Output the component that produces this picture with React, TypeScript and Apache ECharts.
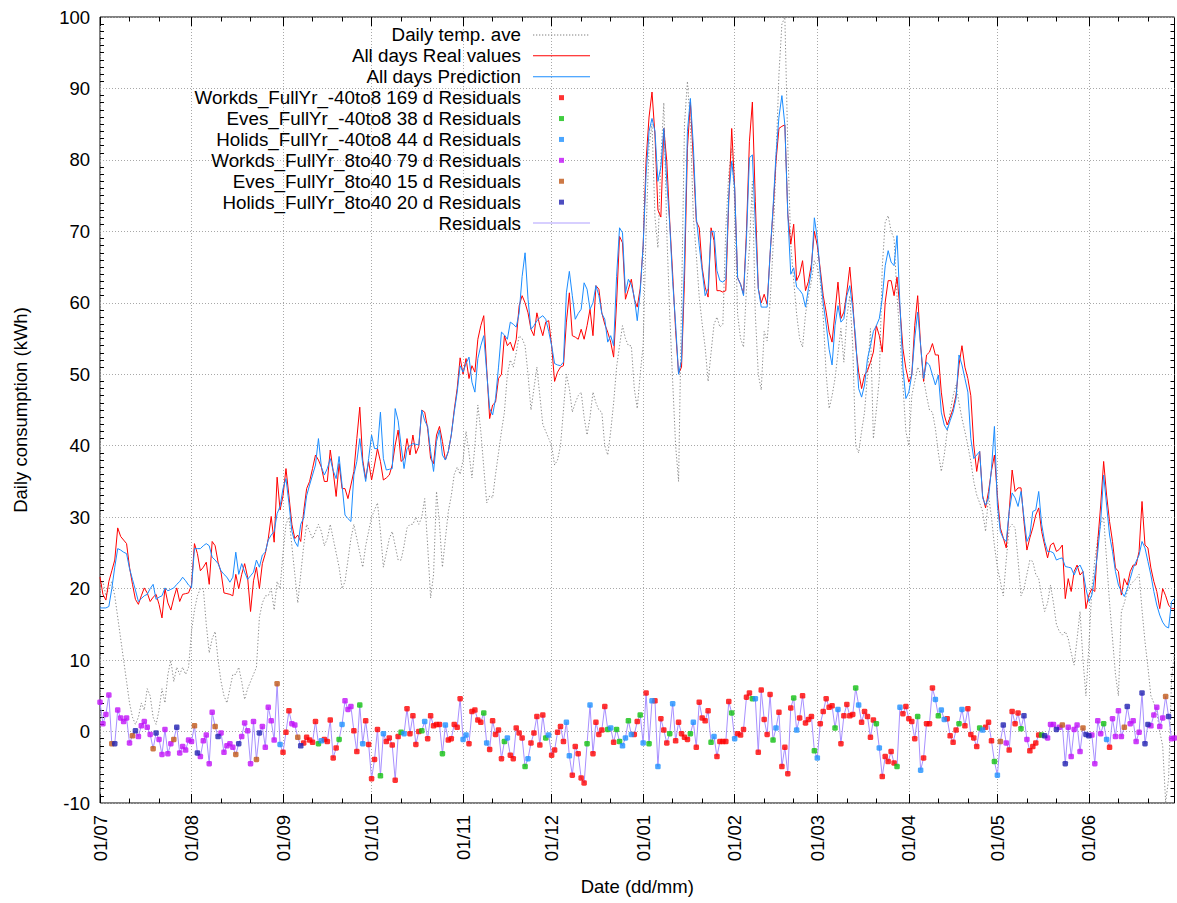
import React, { useEffect, useRef } from 'react';
import * as echarts from 'echarts';

// ---------- categories (dates 01/07 .. 30/06) ----------
const MONTH_NUMBERS = [7, 8, 9, 10, 11, 12, 1, 2, 3, 4, 5, 6];
const MONTH_LENGTHS = [31, 31, 30, 31, 30, 31, 31, 28, 31, 30, 31, 30];
const pad2 = (n: number) => (n < 10 ? '0' + n : '' + n);
const DATES: string[] = [];
MONTH_NUMBERS.forEach((m, i) => {
  for (let d = 1; d <= MONTH_LENGTHS[i]; d++) DATES.push(pad2(d) + '/' + pad2(m));
});

// ---------- series names ----------
const TEMP_NAME = 'Daily temp. ave';
const REAL_NAME = 'All days Real values';
const PRED_NAME = 'All days Prediction';
const RESID_NAME = 'Residuals';
const CAT_CODES = ['W', 'E', 'H', 'w', 'e', 'h'];
const CAT_NAMES = [
  'Workds_FullYr_-40to8 169 d Residuals',
  'Eves_FullYr_-40to8 38 d Residuals',
  'Holids_FullYr_-40to8 44 d Residuals',
  'Workds_FullYr_8to40 79 d Residuals',
  'Eves_FullYr_8to40 15 d Residuals',
  'Holids_FullYr_8to40 20 d Residuals',
];

// ---------- data (kWh per day) ----------
const REAL = [
  21.6, 19.2, 18.4, 21, 22.5, 24, 28.5, 27.3, 26.8, 26.3,
  23, 20.6, 18.5, 17.8, 19, 20.1, 19.4, 18.2, 18.8, 19.2,
  17.8, 15.9, 20, 18, 17, 18.7, 20.1, 18.2, 19.2, 19.3,
  19.4, 20.5, 26.3, 24.9, 22.5, 23, 23.7, 20.6, 26.6, 26,
  23.7, 22.3, 19.4, 19.3, 19.2, 19, 22, 20, 22, 23.5,
  21.6, 16.8, 21.1, 23, 20, 23.5, 24.9, 27, 30.1, 26.5,
  35.6, 31, 33, 36.8, 33, 29, 27, 27.5, 26.6, 30.8,
  34, 35, 36.8, 38.7, 38, 37, 35, 35, 39.4, 36.4,
  32.9, 37.5, 34, 34, 32.6, 34.5, 36.4, 41, 45.4, 38,
  35.4, 37.8, 35.2, 37.3, 39.6, 37.8, 35.2, 35.5, 35.9, 37.3,
  40.1, 42.2, 37.8, 38.2, 41, 38.7, 41.5, 38.9, 39.9, 45,
  44.7, 42.4, 38.2, 37.5, 41.5, 42.7, 40.6, 38, 39.2, 41.5,
  45, 48, 52.3, 50, 52.2, 49.4, 51.2, 50.3, 54.9, 56.8,
  58.2, 50.8, 43.8, 45.7, 46.1, 49.4, 50, 55.4, 54, 54.5,
  53.3, 54.9, 59.6, 61, 60, 58.6, 56.3, 55.4, 58.6, 56.8,
  55.4, 57.3, 57.5, 54, 49, 50.3, 51, 51.2, 57.3, 61.4,
  55.4, 55.2, 54.9, 56.3, 54.9, 56.8, 59.1, 55.4, 62.4, 61.9,
  58.6, 57, 55.9, 54.5, 52.4, 60, 69.3, 68.4, 60.5, 61.9,
  63.3, 60.5, 59.4, 62, 68, 80, 86, 89.5, 83.5, 73,
  72, 84.4, 79.8, 71.4, 64, 56.1, 50.1, 51, 63.1, 81.6,
  88.1, 80, 71.4, 70.5, 64.9, 62.2, 60.8, 70.5, 68.7, 61.7,
  61.7, 61.5, 61.7, 74.2, 84.4, 76.1, 63.5, 62.6, 61.2, 70,
  82.6, 88.1, 74.2, 62, 60, 61.2, 59.8, 66.8, 72.8, 79.8,
  84.4, 84.7, 84.9, 72.4, 68.2, 71, 63.1, 64, 65.9, 61.7,
  63, 65.4, 70, 68, 64.7, 61, 58.7, 55.9, 54.5, 58.7,
  62.9, 57.8, 58.7, 61.5, 65, 60.1, 54, 50.3, 48, 49.9,
  50.5, 51.7, 53.1, 56.8, 55.4, 53.1, 60.1, 63.1, 63.1, 61,
  63.6, 59.2, 53.6, 50.8, 48.9, 49.9, 56.8, 61, 54, 49,
  52.7, 53.1, 54.3, 52.7, 52.7, 47.5, 44.3, 42.9, 44, 45.2,
  47.1, 51.3, 54, 51, 49.4, 47, 40.1, 36.4, 39.2, 33,
  31.3, 33.6, 36.5, 38.7, 33, 28.5, 27.1, 25.7, 30.8, 36.6,
  33.6, 34.1, 34.1, 29.4, 25.4, 27.1, 28.5, 30.3, 31.3, 28,
  26.1, 24.3, 26.1, 26.4, 25.2, 25.5, 26.1, 18.6, 21.4, 19.6,
  22.4, 23.3, 21.9, 22.4, 17.2, 19.1, 20, 19.6, 26.6, 31.7,
  37.8, 33.1, 29.4, 26.6, 22.9, 22.4, 19.1, 21.4, 20.5, 22.4,
  23.3, 23.3, 25.2, 32.2, 26.1, 25.7, 22.9, 21, 19.6, 17.2,
  20, 19, 17.7, 17.2, 17.2,
];

const PRED = [
  17.3, 17.3, 17.3, 17.5, 20, 23, 25.6, 25.4, 25.1, 24.9,
  22.8, 21.3, 19.8, 18.2, 18.6, 19, 19.2, 20, 20.6, 18.5,
  18.8, 19, 20.1, 19.7, 19.9, 20.1, 20.6, 21, 21.6, 21.1,
  20.5, 20.1, 25.6, 25.6, 25.6, 26, 26.3, 26, 24.4, 24,
  23.5, 22.5, 22, 21.6, 20.9, 21.6, 25.1, 22, 23.5, 22.3,
  21.3, 21.8, 22.3, 24, 23, 24.7, 25.1, 26.8, 27.5, 28,
  30.5, 31.5, 34, 35.4, 32, 28, 26.6, 25.9, 29, 29.9,
  33, 34.5, 35.9, 37.3, 41, 37, 35.9, 36.8, 38.2, 36.5,
  35.4, 38.5, 34.5, 30.3, 29.8, 29.4, 35.9, 37.8, 41, 37.5,
  35, 38.2, 41.5, 39.6, 39.6, 44.7, 38.2, 36.6, 36.7, 36.8,
  45.2, 43.5, 40, 36.8, 39.6, 40, 40.3, 40.2, 40.1, 45,
  43.5, 42.7, 39.2, 36.4, 40.6, 42.2, 38.7, 38, 39.2, 41.5,
  44.7, 47.5, 51.2, 50.3, 51.5, 52.4, 48.9, 47.5, 52.2, 54,
  55.4, 50.3, 45.2, 44.3, 46.6, 51, 55.9, 55.5, 54.9, 57.3,
  57, 56.6, 58.6, 63.7, 67, 60.5, 56.3, 56.8, 57.5, 57.9,
  58.2, 57.7, 56, 54, 51.5, 51.3, 51.2, 51.7, 61.4, 64.4,
  61, 57.7, 58.5, 59.1, 62.8, 61.9, 59.1, 60, 62.4, 61,
  58.5, 57.7, 54.5, 55.4, 54, 63.7, 70.5, 69.8, 61.4, 63.3,
  62.5, 60.8, 57.5, 61.5, 68, 78, 84, 85.8, 84, 77,
  79, 84.4, 77, 71, 63, 57, 50, 52, 66, 84,
  88.6, 82, 72, 68, 64.5, 61, 62, 70, 70, 64.5,
  63.1, 62.9, 63.3, 75, 79.8, 76.1, 63.5, 62.6, 61, 69,
  80.3, 80.7, 71, 62, 59.4, 59.4, 59.4, 66.8, 73.3, 80.7,
  86, 89, 84.9, 72.4, 64, 64.9, 62.2, 61.8, 61.2, 59.4,
  62, 64.5, 71.9, 69, 64, 60, 57, 53.5, 51.3, 56.8,
  59.6, 57.3, 57.8, 61, 62.4, 59.2, 55, 48, 46.8, 48.5,
  52.2, 54, 56, 56.8, 57.8, 60.6, 65.2, 67.3, 65.7, 65.2,
  69.4, 59.6, 50.8, 46.6, 47.5, 49.9, 55, 58.7, 54, 49.4,
  51.7, 51.3, 49.9, 48.5, 49.9, 44.7, 42.9, 42.2, 43.5, 44.7,
  46.6, 52.7, 51.3, 49.4, 47.5, 41, 38.2, 38.7, 39.2, 32.7,
  31.7, 32.7, 36.8, 42.7, 31.7, 28, 27, 26.6, 30.8, 33.4,
  32.7, 31.5, 33.6, 30, 26.6, 27.5, 30.8, 31, 33.6, 29,
  26.6, 25.2, 25.2, 25, 24, 24.2, 24.3, 23.1, 23, 22.9,
  21.9, 22.9, 23.3, 22.4, 20, 18.2, 19.1, 21.9, 25.2, 29.4,
  35.9, 31.7, 27.5, 25.2, 22.4, 20.5, 19.6, 18.9, 20, 21.4,
  22.9, 23.8, 24.7, 26.6, 25.7, 23.8, 21.9, 19.6, 17.7, 16.3,
  15.3, 14.7, 14.5, 18.2, 18.6,
];

const TEMP = [
  20, 21, 19, 20, 21, 19, 16, 13, 10, 7,
  4, 2, 1, 2, 4, 3, 6, 5, 2, 1,
  3, 6, 4, 8, 10, 7, 9, 8, 9, 8,
  9, 14, 17, 19, 20, 20, 15, 11, 13, 14,
  10, 7, 5, 4, 6, 8, 8, 9, 7, 4.5,
  6, 7, 8, 9, 16, 18, 19, 19, 20, 17,
  21, 20, 25, 29, 30, 26, 22, 18, 22, 26,
  29, 28, 27, 28, 29, 28, 26, 27, 29, 27,
  25, 23, 20, 21, 24, 27, 29, 27, 25, 23,
  26, 28, 30, 31, 32, 28, 23, 25, 27, 28,
  26, 24, 24, 26, 28.5, 29, 29, 30, 29, 30,
  32.6, 26, 18.7, 22, 33.6, 29, 23, 27, 30.8, 33,
  36, 37, 36, 38, 42, 39, 35.5, 40, 45.7, 42,
  37, 32, 33, 32.7, 36, 39, 42, 44.7, 50, 52,
  51, 53, 55.4, 55, 54, 50, 45, 48, 51, 47,
  43, 42, 41, 40, 37.3, 38, 40, 45, 50, 48,
  44.7, 46, 47, 47.5, 44, 41.5, 44, 47.5, 46, 45,
  44.7, 40, 38.7, 42, 46, 51, 54, 56.8, 55, 54,
  54, 48, 45.2, 50, 54, 70, 82, 85, 72, 67.7,
  80, 88, 70, 58.4, 49, 40, 35, 60, 85, 91,
  85, 72, 66.8, 60.8, 57, 53.8, 49, 53, 57, 58,
  56.6, 57, 70.5, 78, 81.6, 74, 58.4, 55, 53.8, 62,
  67.7, 77, 58.4, 50, 47.8, 56, 54.7, 60, 67.7, 80,
  92, 99, 100, 82, 68.2, 63.1, 58.4, 55, 53.8, 58.4,
  61, 63, 65.9, 65, 63, 58, 50, 45.2, 47, 49.4,
  53, 56.4, 51.7, 58, 61, 54, 40, 39, 42, 44.7,
  50, 56.4, 41, 45, 49.4, 65, 71.3, 72.2, 70, 69,
  61, 55, 48.5, 42, 40, 47, 49, 51, 50, 49.4,
  47, 45, 44.7, 42.4, 39, 36.4, 38.7, 42, 44.7, 47,
  48.5, 46, 43.8, 42, 40, 37.8, 35, 33.1, 32, 30.8,
  28, 33, 30, 26, 23, 21, 19, 24, 28.5, 29,
  28.5, 24, 19, 20, 22, 24, 23.8, 22, 21.4, 19,
  16.8, 18, 20.5, 18, 15, 14, 13.5, 14, 13, 11,
  9.3, 13, 16.8, 10, 5, 12, 20, 24, 27, 29,
  30, 24, 18, 13, 8, 5, 16.8, 18, 19.6, 20.5,
  21, 21.4, 22, 17, 12.6, 9, 5, 4, 2.8, 0,
  -2, -9.9, -6.6, 7.4, 11,
];

const RESID = [
  4.1, 1.1, 2.4, 5.1, -1.7, -1.7, 3, 1.9, 1.4, 1.9,
  -1.6, -0.6, 0.1, -0.7, 0.8, 1.4, 0.6, -0.4, -2.4, -0.2,
  -1.1, -3.2, 0.3, -3.1, -1.7, -1.1, 0.6, -3, -2.1, -2.6,
  -1.2, -1.4, 0.8, -3, -3.5, -1.3, -0.5, -4.5, 2.7, 0.7,
  -0.7, -0.2, -2.9, -2, -1.7, -2.2, -3.2, -1.7, -0.7, 1.2,
  0.1, -4.5, 1.4, -3.9, -0.2, 0.7, -2.2, 3.4, 1.5, -1.2,
  6.7, -1.8, -2.9, -0.1, 2.9, 1.1, 0.9, -0.8, -2, -1.6,
  -0.8, -1.2, -1.5, 1.4, -1.7, -1.3, -1.1, -1.4, 1.6, -3.7,
  -2.3, -1.1, 1, 4.3, 3.1, 3.5, 0.1, -2.8, 3.7, -1.7,
  1.5, -1.8, -6.6, -3.9, 0.3, -6.2, -0.3, -1.4, -0.9, -1.9,
  -6.8, -0.7, -0.1, -0.3, 3.2, -0.3, 2.2, -1.8, 0, 0.1,
  1.4, -1, 2.2, 0.8, 1, 1, -3.1, 0.9, -1.2, -1,
  1, 0.6, 4.6, -1.1, -0.5, -1.7, 2.8, 3, 1.6, 1.3,
  2.6, -1.6, -2.5, 1.5, -0.4, 0.2, -3.8, -1.4, -0.9, -3.3,
  -3.8, 0.5, -0.2, -0.9, -4.9, -3.8, -1.6, -0.2, 2.1, -1.9,
  2.3, -0.9, -0.5, -3.3, -2.6, -0.1, 0.7, -1.4, 1.3, -3.4,
  -6.1, -2.1, -3.1, -6.5, -7.2, -1.7, 3.7, -3.1, 1.3, -0.4,
  0.2, 3.5, 0.3, 0.5, -1.5, 0.3, -1.4, -2, -0.9, 1.5,
  -0.4, -0.4, 1.4, 2.3, -1.6, 5.4, -1.7, 4.3, 4.3, -4.9,
  1.8, 0.2, -1.6, -0.3, 3.9, -1.3, 1.3, -0.3, -0.8, -1.1,
  -0.3, 1.3, -2.2, 4.1, 1.9, 1.5, 2.9, -1.5, -0.7, -3.5,
  -1.4, -1.4, -1.4, 4.2, 2.6, -1, -0.3, -0.5, 0.3, 4.8,
  5.4, 4.6, 4.6, -2.9, 5.8, 1.7, -0.4, 5.2, -1.2, 0.5,
  2.7, -4.9, -2.2, -5.9, 3.3, 4.7, 0.2, 1.9, 5, 1.2,
  1.7, 2.1, -2.7, -3.7, 1.1, 2.8, 4.6, 3.4, 3.6, 0.5,
  3.1, -1.7, 2.2, 3.8, 2.2, 2.4, 6.1, 3.7, 1.3, 2.8,
  2.1, -0.8, 1.6, 1.1, -2.3, -6.3, -3.5, -4.2, -2.8, -4.4,
  -4.9, 3.4, 2.5, 3.5, 1.8, 1.4, -1, 2.1, -5.4, -3.7,
  1.1, 1.1, 6.1, 4.5, 2.2, 3, 1.7, 1.8, -0.6, -1.5,
  0.2, 1.1, 3.1, 0.8, 3.2, -0.4, -0.9, -2.1, 0.5, 0.2,
  0.6, 1.3, -1.3, -4.2, -6.1, -1.4, 0.9, -1.6, -2.6, 2.8,
  1.1, 2.6, 0.4, 2.2, -1.1, -2.7, -2.1, -1.6, -0.5, -0.5,
  -0.6, -0.9, 1, 1, 0.3, 0.6, 0.9, -4.5, 0.6, -3.5,
  0.3, 0.9, -2.8, 0.5, -0.4, -0.6, -0.5, -4.5, 1.5, -0.3,
  1.1, -1.1, -2.2, 1.8, -0.7, 2.9, -0.7, 0.6, 3.5, 1.1,
  1.5, -1.4, -0.1, 5.4, -1.7, 1, 0.8, 2.3, 3.4, 0.7,
  1.9, 4.9, 2.1, -1, -0.9,
];

// day class: W/E/H = workday/eve/holiday (-40to8), w/e/h = same (8to40)
const DAY_CLASS = [
  'wwwwehwwww', 'wehwwwwweh', 'wwwwwehwww', 'wwehwwwwwe', 'hwwwwwehww',
  'wwwehwwwww', 'eHWWWwwehW', 'WWWWEHWWWW', 'WEHwwwWWEH', 'WWWWWEHWWW',
  'WWEHWWWWWE', 'HWWWWWEHWW', 'WWWHHWWWWW', 'EHWWWWWEHW', 'WWWWEHWWWW',
  'WEHWWWWWHH', 'WWWWWEHWWW', 'WWEHWEEHHE', 'HWWEHWEHWH', 'WWWEHWWWWW',
  'EHWWWWWEHW', 'WWWWEHWWWW', 'WEHWWWWWEH', 'WWWWWEHWWW', 'WWEHWWWWWE',
  'HWWWWWEHWW', 'WWWEHWWWWW', 'EHWWWWWEHW', 'WWWHEHHWWW', 'WEHWWWWWEH',
  'WWWEHehwWW', 'WWEhwWWWWE', 'hwwwhwehww', 'wwwehhwwww', 'EHWwwwwehw',
  'wwwhhhwwww', 'wehww',
].join('');

// ---------- styles ----------
const FONT = "'Liberation Sans', Arial, Helvetica, sans-serif";
const FS = 18.5;
const CAT_COLORS = ['#ff0000', '#10c010', '#1e90ff', '#c010f8', '#c05818', '#2020b0'];
const GRID_LINE = { color: '#a8a8a8', type: [1, 2] as number[], width: 1 };

const IW = 64;
const IH = 14;
const BOX = `M0,0M${IW},${IH}`;
const LINE_ICON = `path://${BOX}M7,6.5h57v1h-57z`;
let dots = '';
for (let x = 7; x < 63; x += 3) dots += `M${x},6.5h1.3v1h-1.3z`;
const DOTTED_ICON = `path://${BOX}${dots}`;
const DOT_ICON = `path://${BOX}M33,4.5h5v5h-5z`;

const isMonthStart = (idx: number) => DATES[idx] !== undefined && DATES[idx].startsWith('01/');
const isMinor = (idx: number) => {
  const d = DATES[idx] ? DATES[idx].slice(0, 2) : '';
  return d === '11' || d === '21';
};

export default function App() {
  const ref = useRef<HTMLDivElement>(null);
  useEffect(() => {
    if (!ref.current) return;
    const chart = echarts.init(ref.current, undefined, { renderer: 'svg' });

    const baseX = {
      type: 'category' as const,
      data: DATES,
      boundaryGap: false,
      gridIndex: 0,
      axisLine: { show: false, onZero: false },
    };
    const catSeries = CAT_CODES.map((code, ci) => ({
      name: CAT_NAMES[ci],
      type: 'scatter' as const,
      xAxisIndex: 0,
      yAxisIndex: 0,
      symbol: 'roundRect',
      symbolSize: 5.5,
      itemStyle: { color: CAT_COLORS[ci] },
      z: 5,
      silent: true,
      data: RESID.map((v, i) => (DAY_CLASS[i] === code ? [i, v] : null)).filter((p) => p !== null),
    }));

    chart.setOption({
      animation: false,
      backgroundColor: '#ffffff',
      textStyle: { fontFamily: FONT },
      grid: {
        left: 100,
        right: 2.5,
        top: 17,
        bottom: 100,
        show: true,
        borderColor: '#000',
        borderWidth: 1,
        backgroundColor: 'transparent',
      },
      legend: {
        orient: 'vertical',
        align: 'right',
        right: 1177 - 590,
        top: 24.5,
        padding: 0,
        itemGap: 0,
        itemWidth: IW,
        itemHeight: IH,
        selectedMode: false,
        itemStyle: { borderWidth: 0 },
        textStyle: { fontSize: 18.8, fontFamily: FONT, color: '#000', lineHeight: 20.9 },
        data: [
          { name: TEMP_NAME, icon: DOTTED_ICON, itemStyle: { color: '#808080', borderWidth: 0 } },
          { name: REAL_NAME, icon: LINE_ICON, itemStyle: { color: '#ff0000', borderWidth: 0 } },
          { name: PRED_NAME, icon: LINE_ICON, itemStyle: { color: '#1a8cff', borderWidth: 0 } },
          ...CAT_NAMES.map((n, i) => ({ name: n, icon: DOT_ICON, itemStyle: { color: CAT_COLORS[i], borderWidth: 0 } })),
          { name: RESID_NAME, icon: LINE_ICON, itemStyle: { color: '#b0a0ff', borderWidth: 0 } },
        ],
      },
      xAxis: [
        {
          ...baseX,
          position: 'bottom',
          name: 'Date (dd/mm)',
          nameLocation: 'middle',
          nameGap: 74,
          nameTextStyle: { fontSize: FS, fontFamily: FONT, color: '#000' },
          axisLabel: { interval: isMonthStart, rotate: 90, margin: 12, fontSize: FS, fontFamily: FONT, color: '#000' },
          axisTick: { interval: isMonthStart, inside: true, length: 9, lineStyle: { color: '#000' } },
          splitLine: { show: true, interval: isMonthStart, lineStyle: GRID_LINE },
        },
        {
          ...baseX,
          position: 'bottom',
          axisLabel: { show: false },
          axisTick: { interval: isMinor, inside: true, length: 4.5, lineStyle: { color: '#000' } },
          splitLine: { show: false },
        },
        {
          ...baseX,
          position: 'top',
          axisLabel: { show: false },
          axisTick: { interval: isMonthStart, inside: true, length: 9, lineStyle: { color: '#000' } },
          splitLine: { show: false },
        },
        {
          ...baseX,
          position: 'top',
          axisLabel: { show: false },
          axisTick: { interval: isMinor, inside: true, length: 4.5, lineStyle: { color: '#000' } },
          splitLine: { show: false },
        },
      ],
      yAxis: [
        {
          type: 'value',
          position: 'left',
          min: -10,
          max: 100,
          interval: 10,
          name: 'Daily consumption (kWh)',
          nameLocation: 'middle',
          nameGap: 70,
          nameTextStyle: { fontSize: FS, fontFamily: FONT, color: '#000' },
          axisLine: { show: false, onZero: false },
          axisTick: { inside: true, length: 9, lineStyle: { color: '#000' } },
          minorTick: { show: true, splitNumber: 10, length: 4, lineStyle: { color: '#000' } },
          axisLabel: { margin: 10, fontSize: FS, fontFamily: FONT, color: '#000' },
          splitLine: { show: true, lineStyle: GRID_LINE },
        },
        {
          type: 'value',
          position: 'right',
          min: -10,
          max: 100,
          interval: 10,
          axisLine: { show: false, onZero: false },
          axisTick: { inside: true, length: 9, lineStyle: { color: '#000' } },
          minorTick: { show: true, splitNumber: 10, length: 4, lineStyle: { color: '#000' } },
          axisLabel: { show: false },
          splitLine: { show: false },
        },
      ],
      series: [
        {
          name: TEMP_NAME,
          type: 'line',
          data: TEMP,
          symbol: 'none',
          showSymbol: false,
          silent: true,
          z: 1,
          itemStyle: { color: '#808080' },
          lineStyle: { color: '#8a8a8a', width: 1, type: [1.3, 2] },
        },
        {
          name: REAL_NAME,
          type: 'line',
          data: REAL,
          symbol: 'none',
          showSymbol: false,
          silent: true,
          z: 2,
          itemStyle: { color: '#ff0000' },
          lineStyle: { color: '#ff0000', width: 1 },
        },
        {
          name: PRED_NAME,
          type: 'line',
          data: PRED,
          symbol: 'none',
          showSymbol: false,
          silent: true,
          z: 3,
          itemStyle: { color: '#1a8cff' },
          lineStyle: { color: '#1a8cff', width: 1 },
        },
        {
          name: RESID_NAME,
          type: 'line',
          data: RESID,
          symbol: 'none',
          showSymbol: false,
          silent: true,
          z: 4,
          itemStyle: { color: '#b0a0ff' },
          lineStyle: { color: '#a890ff', width: 1 },
        },
        ...catSeries,
      ],
    });
    return () => chart.dispose();
  }, []);

  return (
    <div
      ref={ref}
      style={{ position: 'fixed', left: 0, top: 0, width: 1177, height: 903, background: '#fff' }}
    />
  );
}
